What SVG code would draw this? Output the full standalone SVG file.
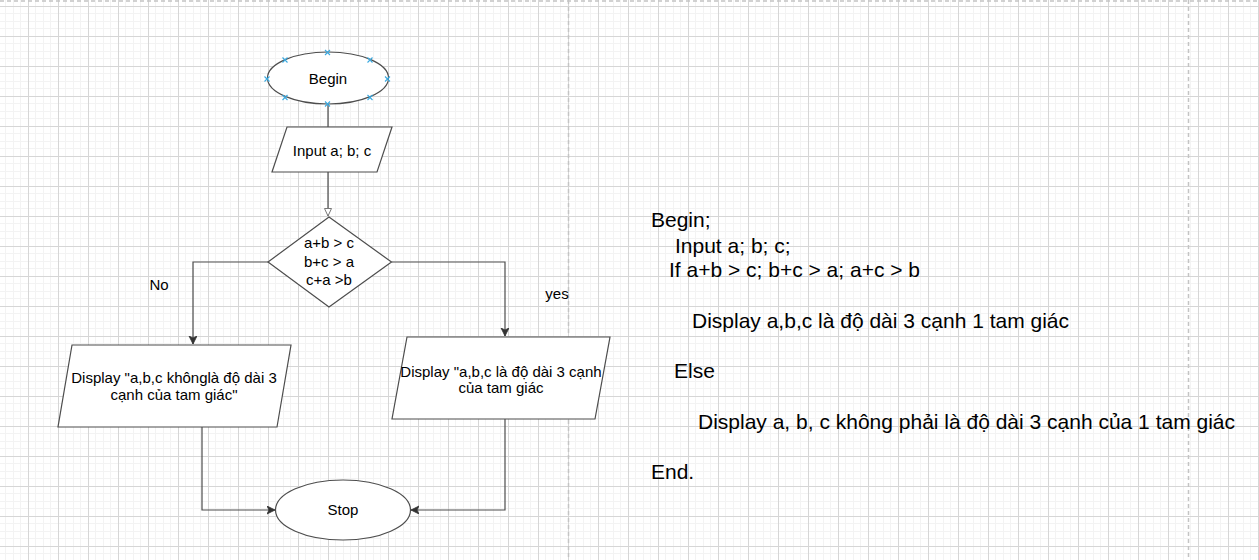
<svg xmlns="http://www.w3.org/2000/svg" width="1259" height="560" viewBox="0 0 1259 560">
<style>
.shape{fill:#ffffff;stroke:#4d4d4d;stroke-width:1.2}
.edge{fill:none;stroke:#4d4d4d;stroke-width:1.2}
.t{font-family:"Liberation Sans",Arial,sans-serif;font-size:15px;fill:#000;text-anchor:middle}
.r{font-family:"Liberation Sans",Arial,sans-serif;font-size:21px;fill:#000}
.pb{stroke:#c4c4c4;stroke-width:1.5;stroke-dasharray:4 3;fill:none}
.hint{stroke:#3aa9e0;stroke-width:1.1;fill:none}
</style>
<defs>
<pattern id="grid" patternUnits="userSpaceOnUse" x="-2" y="6" width="30" height="30">
<rect x="0" y="0" width="30" height="30" fill="#ffffff"/>
<rect x="7" y="0" width="1" height="30" fill="#f3f3f3"/>
<rect x="15" y="0" width="1" height="30" fill="#f3f3f3"/>
<rect x="22" y="0" width="1" height="30" fill="#f3f3f3"/>
<rect x="0" y="7" width="30" height="1" fill="#f3f3f3"/>
<rect x="0" y="15" width="30" height="1" fill="#f3f3f3"/>
<rect x="0" y="22" width="30" height="1" fill="#f3f3f3"/>
<rect x="0" y="0" width="1" height="30" fill="#d6d6d6"/>
<rect x="0" y="0" width="30" height="1" fill="#d6d6d6"/>
</pattern>
<marker id="arr" markerUnits="userSpaceOnUse" markerWidth="10" markerHeight="10" refX="8" refY="4" orient="auto">
<path d="M0,0 L8,4 L0,8 L2,4 Z" fill="#333333" stroke="#333333" stroke-width="0.8"/>
</marker>
<marker id="open" markerUnits="userSpaceOnUse" markerWidth="10" markerHeight="10" refX="8" refY="4" orient="auto">
<path d="M0.5,0.5 L8,4 L0.5,7.5 Z" fill="#ffffff" stroke="#777777" stroke-width="1"/>
</marker>
</defs>
<rect x="0" y="0" width="1259" height="560" fill="url(#grid)"/>
<g id="page-breaks">
<line class="pb" x1="0" y1="1" x2="1259" y2="1"/>
<line class="pb" x1="568.5" y1="0" x2="568.5" y2="560"/>
<line class="pb" x1="1188.5" y1="0" x2="1188.5" y2="560"/>
</g>
<g id="connectors">
<line class="edge" x1="328" y1="104" x2="328" y2="127"/>
<line class="edge" x1="328" y1="172" x2="328" y2="216" marker-end="url(#open)"/>
<polyline class="edge" points="268,262 193,262 193,344" marker-end="url(#arr)"/>
<polyline class="edge" points="391.5,262 505,262 505,336" marker-end="url(#arr)"/>
<polyline class="edge" points="202,427 202,510 275,510" marker-end="url(#arr)"/>
<polyline class="edge" points="505,419 505,510 411,510" marker-end="url(#arr)"/>
<text class="t" x="159" y="290">No</text>
<text class="t" x="557" y="299">yes</text>
</g>
<g id="begin">
<ellipse class="shape" cx="328" cy="78" rx="60.5" ry="26"/>
<text class="t" x="328" y="84">Begin</text>
<path class="hint" d="M282.5,57.5 l5,5 m0,-5 l-5,5 M325,50 l5,5 m0,-5 l-5,5 M367.5,57.5 l5,5 m0,-5 l-5,5 M264.5,76.5 l5,5 m0,-5 l-5,5 M385,76.5 l5,5 m0,-5 l-5,5 M282.5,95 l5,5 m0,-5 l-5,5 M325,101.5 l5,5 m0,-5 l-5,5 M367.5,95 l5,5 m0,-5 l-5,5"/>
</g>
<g id="input">
<polygon class="shape" points="287,127 392,127 377,172 272,172"/>
<text class="t" x="332" y="156">Input a; b; c</text>
</g>
<g id="decision">
<polygon class="shape" points="329,217 391.5,262 329,307 268,262"/>
<text class="t" x="329" y="248">a+b &gt; c</text>
<text class="t" x="329" y="266.5">b+c &gt; a</text>
<text class="t" x="329" y="285">c+a &gt;b</text>
</g>
<g id="display-no">
<polygon class="shape" points="72,345 291,345 277,427 58,427"/>
<text class="t" x="174" y="383">Display "a,b,c khônglà độ dài 3</text>
<text class="t" x="174" y="400">cạnh của tam giác"</text>
</g>
<g id="display-yes">
<polygon class="shape" points="407,337 610,337 595,419 392,419"/>
<text class="t" x="501" y="376.5">Display "a,b,c là độ dài 3 cạnh</text>
<text class="t" x="501" y="393">của tam giác</text>
</g>
<g id="stop">
<ellipse class="shape" cx="343" cy="510" rx="67.5" ry="30"/>
<text class="t" x="343" y="515">Stop</text>
</g>
<g id="pseudocode">
<text class="r" x="651" y="227">Begin;</text>
<text class="r" x="675" y="253">Input a; b; c;</text>
<text class="r" x="669" y="277">If a+b &gt; c; b+c &gt; a; a+c &gt; b</text>
<text class="r" x="692" y="328">Display a,b,c là độ dài 3 cạnh 1 tam giác</text>
<text class="r" x="674" y="378">Else</text>
<text class="r" x="698" y="428.5">Display a, b, c không phải là độ dài 3 cạnh của 1 tam giác</text>
<text class="r" x="651" y="478.5">End.</text>
</g>
</svg>
